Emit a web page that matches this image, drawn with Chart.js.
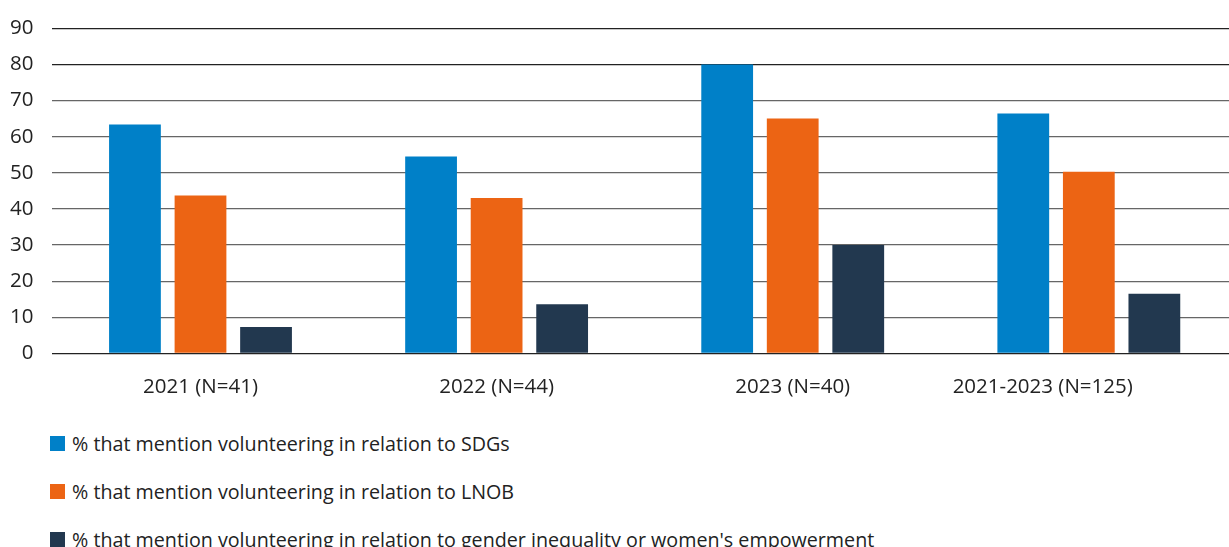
<!DOCTYPE html>
<html>
<head>
<meta charset="utf-8">
<script src="https://cdn.jsdelivr.net/npm/chart.js@4"></script>
<style>
  html, body { margin: 0; padding: 0; background: #fff; overflow: hidden; }
  body { width: 1229px; height: 547px; font-family: "Open Sans", sans-serif; color: #222; position: relative; }
  #wrap { position: absolute; left: -9px; top: -3px; width: 1255px; height: 423px; }
  #legend { position: absolute; left: 50px; top: 428px; }
  .item { display: flex; align-items: center; height: 30px; margin-bottom: 18px; font-size: 19.7px; }
  .box { width: 15px; height: 15px; margin-right: 7px; }
</style>
</head>
<body>
<div id="wrap"><canvas id="chart"></canvas></div>
<div id="legend"></div>
<script>
document.addEventListener("DOMContentLoaded", () => {
  // Data
  const categories = ["2021 (N=41)", "2022 (N=44)", "2023 (N=40)", "2021-2023 (N=125)"];
  const sdgs = [63.4, 54.5, 80, 66.4];
  const lnob = [43.7, 43.0, 65, 50.3];
  const gender = [7.3, 13.6, 30, 16.5];
  const seriesNames = [
    "% that mention volunteering in relation to SDGs",
    "% that mention volunteering in relation to LNOB",
    "% that mention volunteering in relation to gender inequality or women's empowerment",
  ];
  const yTicks = [0, 10, 20, 30, 40, 50, 60, 70, 80, 90];

  const colors = ["#0080C8", "#EC6414", "#22384F"];
  const font = { family: "'Open Sans', sans-serif", size: 20.5 };

  const ctx = document.getElementById("chart").getContext("2d");
  new Chart(ctx, {
    type: "bar",
    data: {
      labels: categories,
      datasets: [sdgs, lnob, gender].map((d, i) => ({
        label: seriesNames[i],
        data: d,
        backgroundColor: colors[i],
        categoryPercentage: 0.664,
        barPercentage: 0.79,
      })),
    },
    options: {
      responsive: true,
      maintainAspectRatio: false,
      animation: false,
      layout: { padding: { left: 0, top: 13, right: 0, bottom: 0 } },
      plugins: {
        legend: { display: false },
        tooltip: { enabled: false },
      },
      scales: {
        x: {
          grid: { display: false, drawTicks: false },
          border: { display: false },
          ticks: {
            color: "#222",
            font: font,
            padding: 21,
            maxRotation: 0,
            // last label sits left of its bars in the original
            callback: (v, i) => i === 3 ? categories[i] + "\u2002".repeat(9) : categories[i],
          },
        },
        y: {
          min: 0,
          max: 90,
          afterBuildTicks: (axis) => { axis.ticks = yTicks.map(v => ({ value: v })); },
          grid: {
            color: (c) => c.tick.value === 0 || c.tick.value >= 80 ? "#222" : "#666",
            lineWidth: 1.3,
            drawTicks: false,
          },
          border: { display: false },
          ticks: { color: "#222", font: font, padding: 19 },
        },
      },
    },
  });

  const legend = document.getElementById("legend");
  seriesNames.forEach((name, i) => {
    const item = document.createElement("div");
    item.className = "item";
    item.innerHTML = `<span class="box" style="background:${colors[i]}"></span><span>${name}</span>`;
    legend.appendChild(item);
  });
});
</script>
</body>
</html>
